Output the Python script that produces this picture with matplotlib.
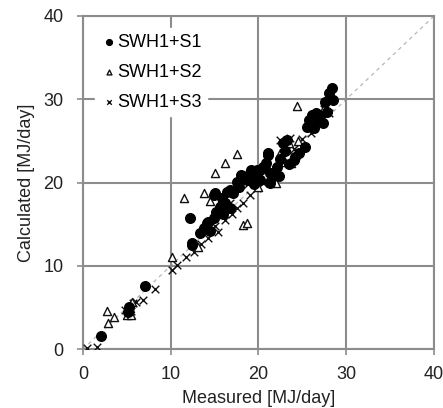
import matplotlib
matplotlib.use("Agg")
import matplotlib.pyplot as plt

plt.rcParams['font.family'] = ['Liberation Sans', 'DejaVu Sans']

# SWH1+S1 (filled circles): (measured, calculated)
s1_measured = [2.1, 7.1, 5.2, 5.1, 12.2, 12.4, 13.3, 14.3, 14.9, 15.6, 15.8, 15.1, 16.4, 16.8,
               17.5, 18.3, 19.0, 19.8, 20.9, 21.1, 20.2, 21.3, 16.8, 16.2, 15.2, 21.1, 19.2,
               20.2, 22.1, 24.2, 24.0, 22.8, 23.2, 25.3, 25.5, 25.7, 26.1, 26.6, 27.4, 27.8,
               27.6, 28.0, 28.4, 28.5, 26.3, 14.9, 15.8, 17.1, 18.7, 19.8, 21.7, 21.3, 13.8,
               14.5, 17.8, 18.0, 19.5, 22.5, 23.0, 20.5, 16.0, 23.5, 22.3, 24.6, 27.0, 26.8,
               12.4, 14.1]
s1_calculated = [1.6, 7.6, 5.1, 4.5, 15.8, 12.5, 13.9, 15.3, 15.7, 17.1, 18.1, 18.7, 18.9, 19.1,
                 20.1, 20.7, 21.1, 21.5, 22.3, 23.3, 20.3, 21.1, 16.9, 17.6, 16.5, 23.5, 21.5,
                 21.5, 21.9, 23.1, 22.7, 24.7, 25.1, 24.3, 26.7, 27.5, 28.1, 28.3, 27.1, 28.5,
                 29.7, 30.7, 31.3, 29.9, 26.5, 18.5, 17.3, 18.7, 20.3, 20.9, 20.9, 19.9, 14.5,
                 14.2, 19.5, 20.9, 19.8, 22.8, 23.8, 21.9, 16.2, 22.2, 20.8, 23.5, 28.0, 27.4,
                 12.7, 15.1]

# SWH1+S2 (open triangles)
s2_measured = [2.7, 3.5, 2.9, 5.0, 5.4, 5.5, 5.6, 10.2, 13.1, 11.5, 13.8, 14.5, 15.0, 16.2,
               17.6, 18.2, 18.7, 23.7, 24.4, 28.2, 19.5, 21.0, 22.5, 23.5, 24.5, 20.0, 16.5,
               26.5, 22.0, 23.0, 27.5]
s2_calculated = [4.6, 3.9, 3.1, 4.1, 5.0, 4.1, 5.7, 11.1, 12.3, 18.2, 18.8, 17.8, 21.2, 22.4,
                 23.4, 14.9, 15.2, 22.3, 29.2, 30.5, 20.5, 22.0, 23.5, 24.8, 25.0, 19.5, 17.5,
                 27.5, 20.0, 22.5, 29.0]

# SWH1+S3 (crosses)
s3_measured = [0.5, 1.6, 4.8, 5.7, 6.1, 6.9, 8.2, 10.1, 10.7, 11.8, 12.6, 13.5, 14.2, 15.4,
               15.0, 16.2, 17.0, 17.5, 18.2, 19.0, 19.8, 20.5, 21.2, 22.0, 22.5, 23.6, 23.2,
               23.0, 24.0, 25.0, 26.0, 27.0, 28.0, 27.5, 16.8, 18.8, 5.3, 5.5]
s3_calculated = [0.2, 0.3, 4.7, 5.5, 5.7, 5.9, 7.2, 9.5, 10.1, 11.1, 11.7, 12.6, 13.4, 14.1,
                 14.8, 15.5, 16.2, 17.0, 17.6, 18.5, 19.3, 20.0, 20.8, 21.5, 25.1, 25.3, 23.9,
                 24.5, 24.0, 25.2, 26.0, 27.2, 28.3, 28.8, 17.5, 19.8, 5.0, 4.6]

ticks = [0, 10, 20, 30, 40]

fig = plt.figure(figsize=(4.43, 4.08), dpi=100)
ax = fig.add_axes([0.187, 0.144, 0.793, 0.817])

grid_c = '#8c8c8c'
ax.set_xlim(0, 40)
ax.set_ylim(0, 40)
ax.set_xticks(ticks)
ax.set_yticks(ticks)
ax.grid(True, color=grid_c, linewidth=1.5, zorder=0)
for sp in ax.spines.values():
    sp.set_color(grid_c)
    sp.set_linewidth(1.5)
ax.tick_params(axis='both', colors=grid_c, length=4, width=1.2, labelsize=13,
               labelcolor='#222222')
ax.tick_params(axis='x', pad=8)
ax.tick_params(axis='y', pad=10)

ax.plot([0, 40], [0, 40], linestyle=(0, (3, 3)), color='#b8b8b8', linewidth=0.9, zorder=1)

ax.scatter(s3_measured, s3_calculated, marker='x', s=30, color='#111111', linewidths=1.0,
           zorder=3, label='SWH1+S3')
ax.scatter(s2_measured, s2_calculated, marker='^', s=34, facecolors='white',
           edgecolors='#111111', linewidths=1.0, zorder=3, label='SWH1+S2')
ax.scatter(s1_measured, s1_calculated, marker='o', s=48, color='black', zorder=4,
           label='SWH1+S1')

handles, labels = ax.get_legend_handles_labels()
order = [2, 1, 0]
leg = ax.legend([handles[i] for i in order], [labels[i] for i in order],
                loc='upper left', bbox_to_anchor=(0.01, 0.99), frameon=True,
                fancybox=False, edgecolor='white', framealpha=1.0, fontsize=13,
                handletextpad=0.0, handlelength=0.9, markerscale=0.6,
                labelspacing=0.72, borderpad=0.3)

ax.set_xlabel('Measured [MJ/day]', fontsize=13, color='#222222', labelpad=5)
ax.set_ylabel('Calculated [MJ/day]', fontsize=13, color='#222222', labelpad=6)

fig.savefig('out.png', dpi=100)
